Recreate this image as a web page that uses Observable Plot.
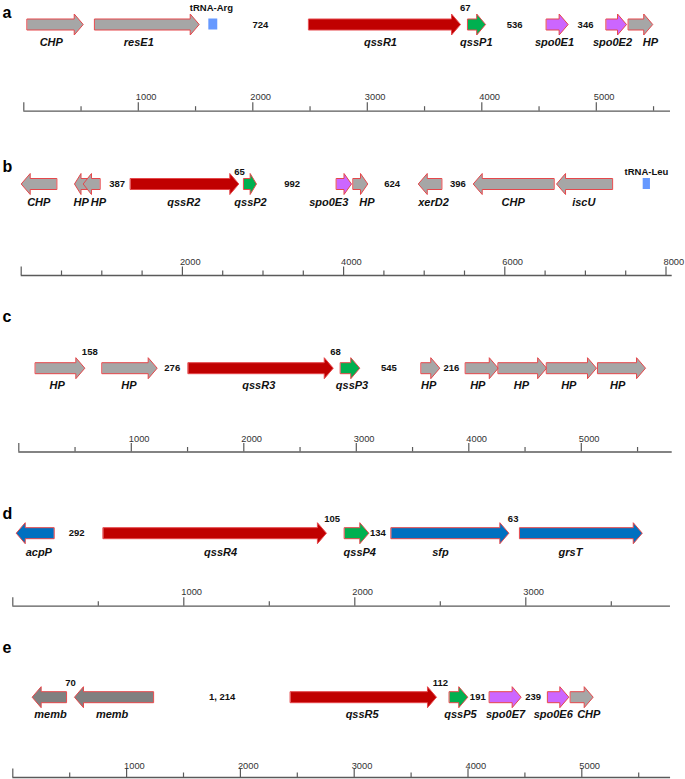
<!DOCTYPE html>
<html><head><meta charset="utf-8">
<script src="https://cdn.jsdelivr.net/npm/d3@7"></script>
<script src="https://cdn.jsdelivr.net/npm/@observablehq/plot@0.6"></script>
<style>
body{margin:0;background:#fff;}
#chart{position:relative;width:685px;height:779px;overflow:hidden;}
#chart svg{position:absolute;left:0;}
</style></head><body><div id="chart"></div>
<script>
// ---------------- DATA (bp positions) ----------------
// Panel a
const aNames  = ["CHP","resE1","qssR1","qssP1","spo0E1","spo0E2","HP"];
const aStart  = [30, 620, 2489, 3878, 4565, 5087, 5281];
const aEnd    = [519, 1532, 3814, 4033, 4754, 5264, 5493];
const aStrand = [1, 1, 1, 1, 1, 1, 1];
const aType   = ["hyp","hyp","qssR","qssP","spo0E","spo0E","hyp"];
const aLabelAt = [240, 1004, 3115, 3952, 4635, 5141, 5473];
const aGapText = ["724","67","536","346"];
const aGapAt   = [2067, 3855, 4286, 4906];
const aGapRow  = ["mid","above","mid","mid"];
const aRNA = {name: "tRNA-Arg", start: 1616, end: 1694, labelAt: 1639};
const aMajorTicks = [1000, 2000, 3000, 4000, 5000];
const aMinorTicks = [500, 1500, 2500, 3500, 4500, 5500];
const aAxisEnd = 5648;

// Panel b
const bNames  = ["CHP","HP","HP","qssR2","qssP2","spo0E3","HP","xerD2","CHP","iscU"];
const bStart  = [0, 661, 769, 1356, 2762, 3912, 4119, 4926, 5608, 6642];
const bEnd    = [438, 823, 975, 2700, 2919, 4098, 4300, 5215, 6608, 7333];
const bStrand = [-1, -1, -1, 1, 1, 1, 1, -1, -1, -1];
const bType   = ["hyp","hyp","hyp","qssR","qssP","spo0E","hyp","hyp","hyp","hyp"];
const bLabelAt = [218, 744, 959, 2017, 2845, 3815, 4290, 5115, 6104, 6980];
const bGapText = ["387","65","992","624","396"];
const bGapAt   = [1191, 2708, 3362, 4603, 5417];
const bGapRow  = ["mid","above","mid","mid","mid"];
const bRNA = {name: "tRNA-Leu", start: 7717, end: 7807, labelAt: 7758};
const bMajorTicks = [2000, 4000, 6000, 8000];
const bMinorTicks = [500,1000,1500,2500,3000,3500,4500,5000,5500,6500,7000,7500];
const bAxisEnd = 8077;

// Panel c
const cNames  = ["HP","HP","qssR3","qssP3","HP","HP","HP","HP","HP"];
const cStart  = [148, 741, 1506, 2860, 3577, 3971, 4262, 4692, 5147];
const cEnd    = [587, 1230, 2795, 3031, 3742, 4262, 4692, 5135, 5571];
const cStrand = [1, 1, 1, 1, 1, 1, 1, 1, 1];
const cType   = ["hyp","hyp","qssR","qssP","hyp","hyp","hyp","hyp","hyp"];
const cLabelAt = [341, 978, 2133, 2962, 3644, 4080, 4468, 4889, 5324];
const cGapText = ["158","276","68","545","216"];
const cGapAt   = [631, 1364, 2815, 3289, 3846];
const cGapRow  = ["above","mid","above","mid","mid"];
const cMajorTicks = [1000, 2000, 3000, 4000, 5000];
const cMinorTicks = [500, 1500, 2500, 3500, 4500, 5500];
const cAxisEnd = 5808;

// Panel d
const dNames  = ["acpP","qssR4","qssP4","sfp","grsT"];
const dStart  = [20, 529, 1940, 2213, 2965];
const dEnd    = [240, 1834, 2082, 2901, 3681];
const dStrand = [-1, 1, 1, 1, 1];
const dType   = ["blue","qssR","qssP","blue","blue"];
const dLabelAt = [152, 1215, 2029, 2501, 3261];
const dGapText = ["292","105","134","63"];
const dGapAt   = [373, 1868, 2135, 2926];
const dGapRow  = ["mid","above","mid","above"];
const dMajorTicks = [1000, 2000, 3000];
const dMinorTicks = [500, 1500, 2500, 3500];
const dAxisEnd = 3846;

// Panel e
const eNames  = ["memb","memb","qssR5","qssP5","spo0E7","spo0E6","CHP"];
const eStart  = [170, 542, 2440, 3837, 4189, 4701, 4901];
const eEnd    = [469, 1234, 3723, 3998, 4467, 4886, 5100];
const eStrand = [-1, -1, 1, 1, 1, 1, 1];
const eType   = ["memb","memb","qssR","qssP","spo0E","spo0E","hyp"];
const eLabelAt = [331, 873, 3070, 3934, 4330, 4749, 5061];
const eGapText = ["70","1, 214","112","191","239"];
const eGapAt   = [507, 1840, 3758, 4086, 4573];
const eGapRow  = ["above","mid","above","mid","mid"];
const eMajorTicks = [1000, 2000, 3000, 4000, 5000];
const eMinorTicks = [500, 1500, 2500, 3500, 4500, 5500];
const eAxisEnd = 5780;

// ---------------- STYLE ----------------
const typeColor = {hyp: "#a6a6a6", memb: "#808080", qssR: "#c00000", qssP: "#00b050", spo0E: "#cc66ff", blue: "#0070c0"};
const outline = "#e5474b";
const rnaColor = "#6699ff";
const axisColor = "#5a5a5a";
const FONT = "Liberation Sans, Arial, Helvetica, sans-serif";

// ---------------- LAYOUT (pixels) ----------------
const panels = [
  {letter: "a", names: aNames, start: aStart, end: aEnd, strand: aStrand, type: aType, labelAt: aLabelAt,
   gapText: aGapText, gapAt: aGapAt, gapRow: aGapRow, rna: aRNA, major: aMajorTicks, minor: aMinorTicks, axisEnd: aAxisEnd,
   top: 0, h: 140, x0: 23.3, k: 0.1145, yLetter: 12, yAbove: 7, yRow: 24, yLabel: 42, yTick: 97, yAxis: 110.7},
  {letter: "b", names: bNames, start: bStart, end: bEnd, strand: bStrand, type: bType, labelAt: bLabelAt,
   gapText: bGapText, gapAt: bGapAt, gapRow: bGapRow, rna: bRNA, major: bMajorTicks, minor: bMinorTicks, axisEnd: bAxisEnd,
   top: 140, h: 155, x0: 20.7, k: 0.0806, yLetter: 166.7, yAbove: 171.7, yRow: 183.5, yLabel: 201.7, yTick: 261.7, yAxis: 275},
  {letter: "c", names: cNames, start: cStart, end: cEnd, strand: cStrand, type: cType, labelAt: cLabelAt,
   gapText: cGapText, gapAt: cGapAt, gapRow: cGapRow, rna: null, major: cMajorTicks, minor: cMinorTicks, axisEnd: cAxisEnd,
   top: 295, h: 170, x0: 18.3, k: 0.1125, yLetter: 316.7, yAbove: 351.7, yRow: 367.7, yLabel: 385, yTick: 438.3, yAxis: 451.5},
  {letter: "d", names: dNames, start: dStart, end: dEnd, strand: dStrand, type: dType, labelAt: dLabelAt,
   gapText: dGapText, gapAt: dGapAt, gapRow: dGapRow, rna: null, major: dMajorTicks, minor: dMinorTicks, axisEnd: dAxisEnd,
   top: 465, h: 155, x0: 12.3, k: 0.171, yLetter: 513, yAbove: 518.3, yRow: 532.7, yLabel: 551.7, yTick: 591.7, yAxis: 605.7},
  {letter: "e", names: eNames, start: eStart, end: eEnd, strand: eStrand, type: eType, labelAt: eLabelAt,
   gapText: eGapText, gapAt: eGapAt, gapRow: eGapRow, rna: null, major: eMajorTicks, minor: eMinorTicks, axisEnd: eAxisEnd,
   top: 620, h: 159, x0: 12.3, k: 0.1138, yLetter: 647, yAbove: 682.7, yRow: 696.7, yLabel: 714, yTick: 765.7, yAxis: 777}
];

const SHAFT = 5.5, HEAD = 10.5, HEADLEN = 9;
const W = 685;

function arrowPoints(p) {
  const pts = [];
  const headBp = HEADLEN / p.k;
  p.names.forEach((name, i) => {
    const s = p.start[i], e = p.end[i], dir = p.strand[i], r = p.yRow;
    const hl = Math.min(headBp, 0.5 * (e - s));
    const fill = typeColor[p.type[i]];
    let poly;
    if (dir > 0) {
      const n = e - hl;
      poly = [[s, r - SHAFT], [n, r - SHAFT], [n, r - HEAD], [e, r], [n, r + HEAD], [n, r + SHAFT], [s, r + SHAFT]];
    } else {
      const n = s + hl;
      poly = [[e, r - SHAFT], [n, r - SHAFT], [n, r - HEAD], [s, r], [n, r + HEAD], [n, r + SHAFT], [e, r + SHAFT]];
    }
    poly.forEach(([x, y]) => pts.push({id: p.letter + i, x, y, fill}));
  });
  return pts;
}

const root = document.getElementById("chart");
for (const p of panels) {
  const genes = p.names.map((name, i) => ({name, at: p.labelAt[i]}));
  const gaps = p.gapText.map((t, i) => ({t, x: p.gapAt[i], y: p.gapRow[i] === "above" ? p.yAbove : p.yRow}));
  const marks = [
    // axis baseline
    Plot.ruleY([p.yAxis], {x1: 0, x2: p.axisEnd, stroke: axisColor, strokeWidth: 1.3}),
    // ticks (0 and labelled ones longer)
    Plot.ruleX([0, ...p.major], {y1: p.yAxis - 8.5, y2: p.yAxis, stroke: axisColor, strokeWidth: 1.2}),
    Plot.ruleX(p.minor, {y1: p.yAxis - 4.5, y2: p.yAxis, stroke: axisColor, strokeWidth: 1.2}),
    Plot.text(p.major, {x: d => d, y: p.yTick, text: d => String(d), textAnchor: "start", dx: -2.5,
      fontSize: 9.3, fill: "#333", fontFamily: FONT}),
    // genes
    Plot.line(arrowPoints(p), {x: "x", y: "y", z: "id", fill: "fill", stroke: outline, strokeWidth: 1,
      curve: "linear-closed", strokeLinejoin: "miter"}),
    Plot.text(genes, {x: "at", y: p.yLabel, text: "name", fontSize: 11, fontWeight: "bold", fontStyle: "italic",
      fill: "#111", fontFamily: FONT}),
    Plot.text(gaps, {x: "x", y: "y", text: "t", fontSize: 9.5, fontWeight: "bold", fill: "#111", fontFamily: FONT}),
    // panel letter
    Plot.text([p.letter], {y: p.yLetter, frameAnchor: "left", dx: 2, text: d => d, textAnchor: "start",
      fontSize: 16, fontWeight: "bold", fill: "#000", fontFamily: FONT})
  ];
  if (p.rna) {
    marks.push(Plot.rect([p.rna], {x1: "start", x2: "end", y1: p.yRow - 5.5, y2: p.yRow + 5.5, fill: rnaColor}));
    marks.push(Plot.text([p.rna], {x: "labelAt", y: p.yAbove, text: "name", fontSize: 9.5, fontWeight: "bold",
      fill: "#111", fontFamily: FONT}));
  }
  const svg = Plot.plot({
    width: W, height: p.h,
    marginLeft: 0, marginRight: 0, marginTop: 0, marginBottom: 0,
    x: {domain: [0, p.axisEnd], range: [p.x0, p.x0 + p.k * p.axisEnd], axis: null},
    y: {domain: [p.top, p.top + p.h], range: [0, p.h], axis: null},
    color: {type: "identity"},
    style: {fontFamily: FONT, background: "transparent", overflow: "visible"},
    marks
  });
  svg.style.top = p.top + "px";
  root.appendChild(svg);
}
</script></body></html>
